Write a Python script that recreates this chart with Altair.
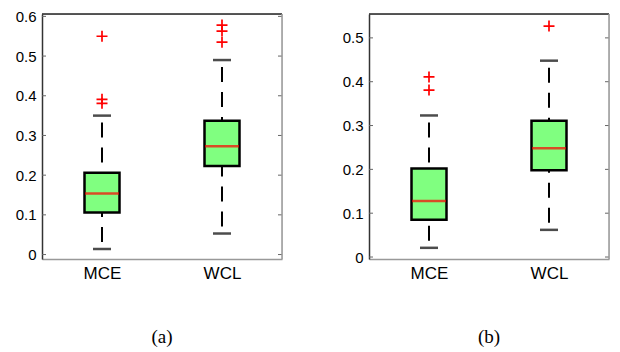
import altair as alt
import pandas as pd

categories = ["MCE", "WCL"]

# Panel (a)
a_lower = [0.014, 0.053]
a_q1 = [0.106, 0.223]
a_median = [0.154, 0.273]
a_q3 = [0.206, 0.337]
a_upper = [0.350, 0.490]
a_out_cat = ["MCE", "MCE", "MCE", "WCL", "WCL", "WCL"]
a_out_val = [0.550, 0.391, 0.381, 0.578, 0.563, 0.535]
a_ticks = [0, 0.1, 0.2, 0.3, 0.4, 0.5, 0.6]
a_domain = [-0.0112, 0.606]

# Panel (b)
b_lower = [0.021, 0.062]
b_q1 = [0.085, 0.198]
b_median = [0.128, 0.248]
b_q3 = [0.202, 0.311]
b_upper = [0.323, 0.448]
b_out_cat = ["MCE", "MCE", "WCL"]
b_out_val = [0.411, 0.381, 0.527]
b_ticks = [0, 0.1, 0.2, 0.3, 0.4, 0.5]
b_domain = [-0.0045, 0.5545]

captions = ["(a)", "(b)"]

W, H = 240, 245
FONT = "Liberation Sans"


def panel(lower, q1, med, q3, upper, out_cat, out_val, ticks, domain, caption):
    stats = pd.DataFrame({"cat": categories, "lower": lower, "q1": q1,
                          "median": med, "q3": q3, "upper": upper})
    outs = pd.DataFrame({"cat": out_cat, "val": out_val})
    tk = pd.DataFrame({"v": ticks})
    one = pd.DataFrame({"k": [0]})

    xenc = alt.X("cat:N", scale=alt.Scale(type="point", padding=0.5, domain=categories),
                 axis=alt.Axis(title=None, labelAngle=0, labelFont=FONT, labelFontSize=17,
                               labelColor="black", tickSize=0, domainColor="#999",
                               domainWidth=1.5, labelPadding=6))
    yscale = alt.Scale(domain=domain, nice=False, zero=False)
    yaxis = alt.Axis(title=None, values=ticks,
                     labelExpr="datum.value == 0 ? '0' : format(datum.value, '.1f')",
                     tickSize=0, labelPadding=6, labelFont=FONT, labelFontSize=15,
                     labelColor="black", grid=False, domainColor="#333", domainWidth=1.5)

    def Y(f):
        return alt.Y(f, scale=yscale, axis=yaxis)

    base = alt.Chart(stats)
    up = base.mark_rule(color="black", strokeWidth=2, strokeDash=[15, 10],
                        strokeDashOffset=18).encode(x=xenc, y=Y("upper:Q"), y2="q3:Q")
    lo = base.mark_rule(color="black", strokeWidth=2, strokeDash=[15, 10],
                        strokeDashOffset=18).encode(x=xenc, y=Y("lower:Q"), y2="q1:Q")
    box = base.mark_bar(size=35, color="#80ff80", stroke="black",
                        strokeWidth=2.5).encode(x=xenc, y=Y("q1:Q"), y2="q3:Q")
    medm = base.mark_tick(size=34, thickness=2.5, color="#ff0000").encode(x=xenc, y=Y("median:Q"))
    capu = base.mark_tick(size=18, thickness=2.5, color="black").encode(x=xenc, y=Y("upper:Q"))
    capl = base.mark_tick(size=18, thickness=2.5, color="black").encode(x=xenc, y=Y("lower:Q"))
    pts = alt.Chart(outs).mark_point(shape="M-1,0H1M0,-1V1", size=121, filled=False,
                                     stroke="#ff0000", strokeWidth=1.7, opacity=1).encode(
        x=xenc, y=Y("val:Q"))
    tl = alt.Chart(tk).mark_rule(color="#666", strokeWidth=1).encode(
        x=alt.value(0), x2=alt.value(4), y=Y("v:Q"))
    tr = alt.Chart(tk).mark_rule(color="#666", strokeWidth=1).encode(
        x=alt.value(W - 4), x2=alt.value(W), y=Y("v:Q"))
    top = alt.Chart(one).mark_rule(color="#222", strokeWidth=1.5).encode(
        x=alt.value(0), x2=alt.value(W), y=alt.value(0))
    right = alt.Chart(one).mark_rule(color="#999", strokeWidth=1.5).encode(
        x=alt.value(W), y=alt.value(0), y2=alt.value(H))

    return alt.layer(lo, up, box, medm, capu, capl, pts, tl, tr, top, right).properties(
        width=W, height=H,
        title=alt.TitleParams(caption, orient="bottom", font="Liberation Serif", fontSize=19,
                              fontWeight="normal", color="black", offset=47, baseline="top"))


pa = panel(a_lower, a_q1, a_median, a_q3, a_upper, a_out_cat, a_out_val, a_ticks, a_domain, captions[0])
pb = panel(b_lower, b_q1, b_median, b_q3, b_upper, b_out_cat, b_out_val, b_ticks, b_domain, captions[1])

chart = alt.hconcat(pa, pb, spacing=87, bounds="flush").properties(
    padding={"left": 6, "top": 0, "right": 0, "bottom": 0}
).configure_view(stroke=None).configure(background="white")

chart.save("out.html", embed_options={"renderer": "svg", "actions": False})
